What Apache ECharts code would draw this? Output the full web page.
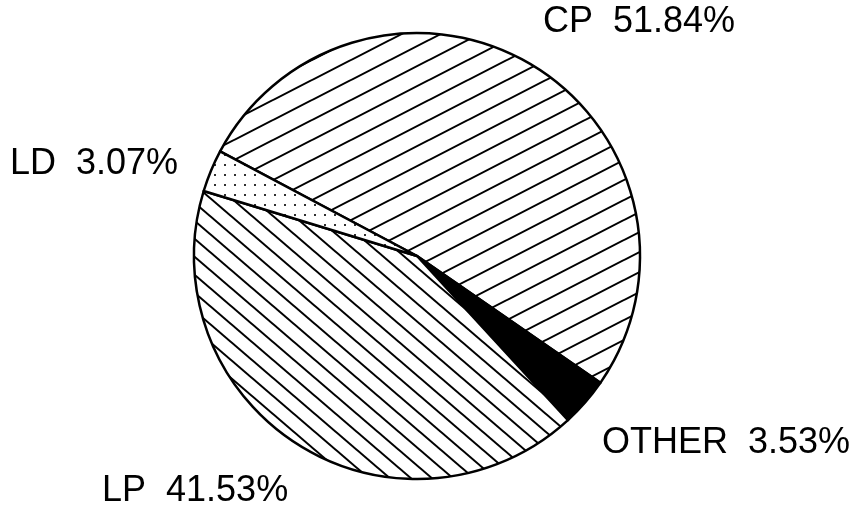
<!DOCTYPE html>
<html>
<head>
<meta charset="utf-8">
<style>
html, body { margin: 0; padding: 0; background: #fff; }
#main { width: 854px; height: 511px; }
</style>
<script src="https://cdn.jsdelivr.net/npm/echarts@6/dist/echarts.min.js"></script>
</head>
<body>
<div id="main"></div>
<script>
// slice order follows the drawing, clockwise from the LD/CP border
var names = ['CP', 'OTHER', 'LP', 'LD'];
var shares = [51.84, 3.53, 41.53, 3.07];
var labelText = ['CP  51.84%', 'OTHER  3.53%', 'LP  41.53%', 'LD  3.07%'];

// hatch tile: lines with horizontal period w and vertical period h
function hatch(w, h, dir, lw) {
    var c = document.createElement('canvas');
    c.width = w;
    c.height = h;
    var ctx = c.getContext('2d');
    ctx.fillStyle = '#fff';
    ctx.fillRect(0, 0, w, h);
    ctx.strokeStyle = '#000';
    ctx.lineWidth = lw;
    for (var k = -1; k <= 1; k++) {
        ctx.beginPath();
        if (dir === '/') {
            ctx.moveTo(k * w - w, 2 * h);
            ctx.lineTo(k * w + 2 * w, -h);
        } else {
            ctx.moveTo(k * w - w, -h);
            ctx.lineTo(k * w + 2 * w, 2 * h);
        }
        ctx.stroke();
    }
    return { image: c, repeat: 'repeat' };
}

function dots(step, r) {
    var c = document.createElement('canvas');
    c.width = step;
    c.height = step;
    var ctx = c.getContext('2d');
    ctx.fillStyle = '#fff';
    ctx.fillRect(0, 0, step, step);
    ctx.fillStyle = '#000';
    ctx.fillRect(step / 2 - r / 2, step / 2 - r / 2, r, r);
    return { image: c, repeat: 'repeat' };
}

var fills = [hatch(39, 20, '/', 2), '#000', hatch(21, 18, '\\', 2), dots(10, 1.8)];
// label anchor (left, vertical middle)
var labelPos = [[543, 22], [602, 443], [102, 491], [10, 164]];

var chart = echarts.init(document.getElementById('main'));
chart.setOption({
    backgroundColor: '#fff',
    animation: false,
    series: [{
        type: 'pie',
        center: [417, 256],
        radius: 223,
        startAngle: 152,
        clockwise: true,
        avoidLabelOverlap: false,
        itemStyle: { borderColor: '#000', borderWidth: 2.5 },
        label: {
            show: true,
            color: '#000',
            fontFamily: 'Liberation Sans, Arial, sans-serif',
            fontSize: 36,
            formatter: function (p) { return labelText[p.dataIndex]; }
        },
        labelLine: { show: false },
        labelLayout: function (p) {
            return {
                x: labelPos[p.dataIndex][0],
                y: labelPos[p.dataIndex][1],
                align: 'left',
                verticalAlign: 'middle'
            };
        },
        emphasis: { disabled: true },
        data: names.map(function (n, i) {
            return { name: n, value: shares[i], itemStyle: { color: fills[i] } };
        })
    }]
});
</script>
</body>
</html>
